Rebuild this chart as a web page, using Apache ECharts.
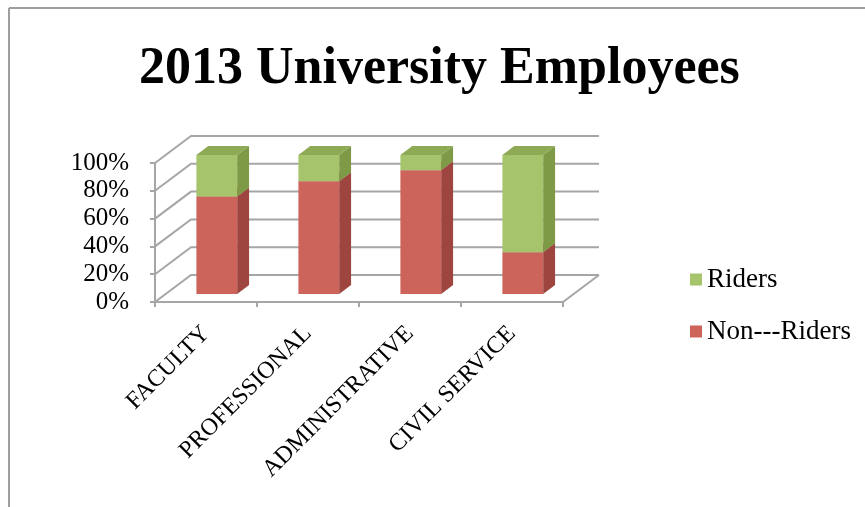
<!DOCTYPE html>
<html>
<head>
<meta charset="utf-8">
<script src="https://cdn.jsdelivr.net/npm/echarts@6/dist/echarts.min.js"></script>
<style>html,body{margin:0;padding:0;background:#fff;}#c{width:865px;height:507px;}</style>
</head>
<body>
<div id="c"></div>
<script>
var categories = ['FACULTY', 'PROFESSIONAL', 'ADMINISTRATIVE', 'CIVIL SERVICE'];
var nonRiders = [70, 81, 89, 30];
var riders = [30, 19, 11, 70];
var yTicks = [0, 20, 40, 60, 80, 100];
var seriesNames = ['Non---Riders', 'Riders'];

var SERIF = '"Liberation Serif", "DejaVu Serif", serif';
var DEPTH = [36, -27];
var F1 = 0.3, F2 = 0.63, HALF = 0.2;
var GRID = '#A6A6A6';

var colors = {
  'Non---Riders': { front: '#CD645B', side: '#9F4540', top: '#B55650' },
  'Riders': { front: '#A6C46B', side: '#7E9A47', top: '#8EAA55' }
};

function barRender(name) {
  var c = colors[name];
  return function (params, api) {
    var i = api.value(0), y0 = api.value(1), y1 = api.value(2);
    var p0 = api.coord([i, y0]);
    var p1 = api.coord([i, y1]);
    var band = api.size([1, 0])[0];
    var hw = band * HALF;
    var ox = DEPTH[0] * F1, oy = DEPTH[1] * F1;
    var bx = DEPTH[0] * F2, by = DEPTH[1] * F2;
    var xl = p0[0] - hw, xr = p0[0] + hw;
    var yb = p0[1], yt = p1[1];
    return {
      type: 'group',
      children: [
        { type: 'polygon', shape: { points: [[xl + ox, yb + oy], [xr + ox, yb + oy], [xr + ox, yt + oy], [xl + ox, yt + oy]] }, style: { fill: c.front } },
        { type: 'polygon', shape: { points: [[xr + ox, yb + oy], [xr + bx, yb + by], [xr + bx, yt + by], [xr + ox, yt + oy]] }, style: { fill: c.side } },
        { type: 'polygon', shape: { points: [[xl + ox, yt + oy], [xr + ox, yt + oy], [xr + bx, yt + by], [xl + bx, yt + by]] }, style: { fill: c.top } }
      ]
    };
  };
}

function gridRender(params, api) {
  var v = api.value(1);
  var band = api.size([1, 0])[0];
  var pL = api.coord([0, v]);
  var pR = api.coord([categories.length - 1, v]);
  var left = pL[0] - band / 2, right = pR[0] + band / 2, y = pL[1];
  var st = { stroke: GRID, lineWidth: 2, fill: null };
  var ch = [
    { type: 'polyline', shape: { points: [[left, y], [left + DEPTH[0], y + DEPTH[1]], [right + DEPTH[0], y + DEPTH[1]]] }, style: st }
  ];
  if (v === 0) {
    ch.push({ type: 'line', shape: { x1: right, y1: y, x2: right + DEPTH[0], y2: y + DEPTH[1] }, style: st });
  }
  return { type: 'group', children: ch };
}

var chart = echarts.init(document.getElementById('c'));
chart.setOption({
  animation: false,
  backgroundColor: '#fff',
  title: {
    text: '2013 University Employees',
    left: 139,
    top: 44,
    padding: 0,
    textStyle: { fontFamily: SERIF, fontWeight: 'bold', fontSize: 52, color: '#000' }
  },
  legend: {
    data: ['Riders', 'Non---Riders'],
    orient: 'vertical',
    left: 690,
    top: 266,
    padding: 0,
    itemGap: 25,
    itemWidth: 12,
    itemHeight: 12,
    icon: 'rect',
    textStyle: { fontFamily: SERIF, fontSize: 27, color: '#000' }
  },
  graphic: [
    { type: 'line', shape: { x1: 9, y1: 8, x2: 865, y2: 8 }, style: { stroke: '#9E9E9E', lineWidth: 2 } },
    { type: 'line', shape: { x1: 9, y1: 8, x2: 9, y2: 507 }, style: { stroke: '#9E9E9E', lineWidth: 2 } }
  ],
  grid: { left: 155, right: 302, top: 163, bottom: 205 },
  xAxis: {
    type: 'category',
    data: categories,
    axisLine: { lineStyle: { color: GRID, width: 2 } },
    axisTick: { show: true, length: 5, lineStyle: { color: GRID, width: 2 } },
    axisLabel: { interval: 0, rotate: 45, margin: 28, fontFamily: SERIF, fontSize: 24, color: '#000' },
    splitLine: { show: false }
  },
  yAxis: {
    type: 'value',
    min: 0, max: 100, interval: 20,
    axisLine: { show: true, lineStyle: { color: GRID, width: 2 } },
    axisTick: { show: true, length: 5, lineStyle: { color: GRID, width: 2 } },
    axisLabel: { margin: 26, fontFamily: SERIF, fontSize: 25, color: '#000', formatter: '{value}%' },
    splitLine: { show: false }
  },
  series: [
    {
      type: 'custom', name: 'grid3d', silent: true,
      renderItem: gridRender,
      data: yTicks.map(function (v) { return [0, v]; }),
      encode: { x: 0, y: 1 }
    },
    {
      type: 'custom', name: seriesNames[0],
      itemStyle: { color: colors[seriesNames[0]].front },
      renderItem: barRender(seriesNames[0]),
      data: nonRiders.map(function (v, i) { return [i, 0, v]; }),
      encode: { x: 0, y: [1, 2] }
    },
    {
      type: 'custom', name: seriesNames[1],
      itemStyle: { color: colors[seriesNames[1]].front },
      renderItem: barRender(seriesNames[1]),
      data: riders.map(function (v, i) { return [i, nonRiders[i], nonRiders[i] + v]; }),
      encode: { x: 0, y: [1, 2] }
    }
  ]
});
</script>
</body>
</html>
